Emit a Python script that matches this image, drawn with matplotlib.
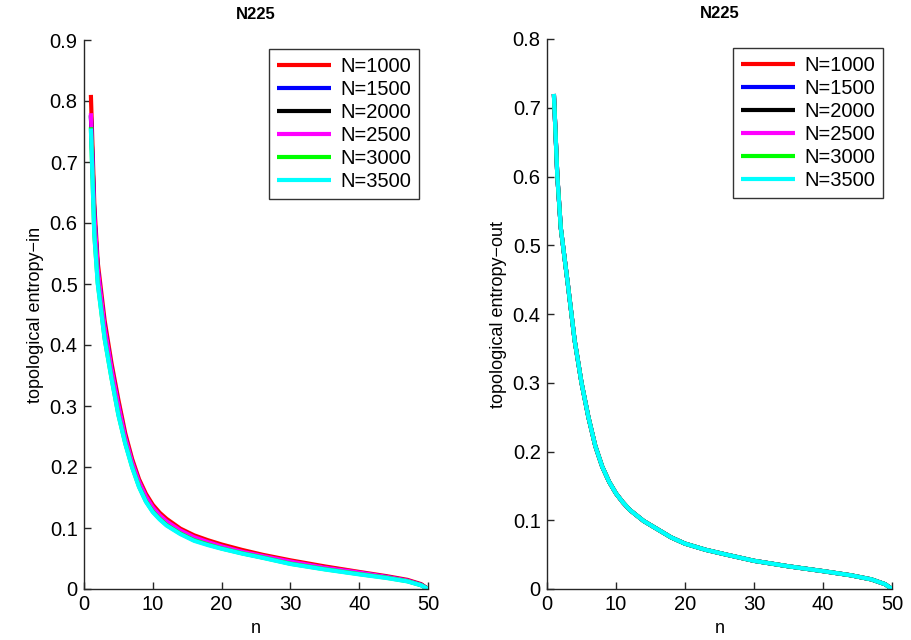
import matplotlib
matplotlib.use("Agg")
import matplotlib.pyplot as plt

plt.rcParams['font.family'] = ['Liberation Sans', 'DejaVu Sans']

# ---- data ----
n_in = [1, 1.5, 2, 3, 4, 5, 6, 7, 8, 9, 10, 11, 12, 14, 16, 18, 20, 23, 26, 30, 35, 40, 44, 47, 49, 50]
in_1000 = [0.81, 0.63, 0.535, 0.44, 0.37, 0.31, 0.255, 0.213, 0.18, 0.156, 0.138, 0.125, 0.115, 0.099, 0.088, 0.080, 0.073, 0.064, 0.056, 0.047, 0.037, 0.028, 0.021, 0.015, 0.008, 0.0]
in_1500 = [0.775, 0.612, 0.522, 0.428, 0.360, 0.300, 0.247, 0.206, 0.174, 0.150, 0.132, 0.119, 0.109, 0.094, 0.083, 0.075, 0.068, 0.059, 0.052, 0.0435, 0.034, 0.026, 0.0195, 0.0135, 0.0068, 0.0]
in_2000 = [0.777, 0.613, 0.523, 0.429, 0.361, 0.301, 0.248, 0.207, 0.175, 0.151, 0.133, 0.120, 0.110, 0.095, 0.084, 0.076, 0.069, 0.060, 0.053, 0.044, 0.0345, 0.0265, 0.0198, 0.0138, 0.0069, 0.0]
in_2500 = [0.78, 0.615, 0.525, 0.43, 0.362, 0.302, 0.249, 0.208, 0.176, 0.152, 0.134, 0.121, 0.111, 0.096, 0.085, 0.077, 0.070, 0.061, 0.054, 0.045, 0.035, 0.027, 0.020, 0.014, 0.007, 0.0]
in_3000 = [0.757, 0.582, 0.502, 0.411, 0.346, 0.286, 0.239, 0.200, 0.168, 0.144, 0.127, 0.115, 0.105, 0.091, 0.080, 0.073, 0.0665, 0.0585, 0.0515, 0.0415, 0.0325, 0.0245, 0.0185, 0.0128, 0.0062, 0.0]
in_3500 = [0.755, 0.58, 0.50, 0.41, 0.345, 0.285, 0.238, 0.199, 0.167, 0.143, 0.126, 0.114, 0.104, 0.090, 0.079, 0.072, 0.066, 0.058, 0.051, 0.041, 0.032, 0.024, 0.018, 0.0125, 0.006, 0.0]

n_out = [1, 1.5, 2, 3, 4, 5, 6, 7, 8, 9, 10, 11, 12, 14, 16, 18, 20, 23, 26, 30, 35, 40, 44, 47, 49, 50]
out_1000 = [0.72, 0.60, 0.525, 0.445, 0.362, 0.30, 0.25, 0.208, 0.178, 0.156, 0.139, 0.126, 0.115, 0.099, 0.087, 0.075, 0.066, 0.057, 0.050, 0.041, 0.033, 0.026, 0.020, 0.014, 0.007, 0.0]
out_1500 = [0.72, 0.60, 0.525, 0.445, 0.362, 0.30, 0.25, 0.208, 0.178, 0.156, 0.139, 0.126, 0.115, 0.099, 0.087, 0.075, 0.066, 0.057, 0.050, 0.041, 0.033, 0.026, 0.020, 0.014, 0.007, 0.0]
out_2000 = [0.72, 0.60, 0.525, 0.445, 0.362, 0.30, 0.25, 0.208, 0.178, 0.156, 0.139, 0.126, 0.115, 0.099, 0.087, 0.075, 0.066, 0.057, 0.050, 0.041, 0.033, 0.026, 0.020, 0.014, 0.007, 0.0]
out_2500 = [0.72, 0.60, 0.525, 0.445, 0.362, 0.30, 0.25, 0.208, 0.178, 0.156, 0.139, 0.126, 0.115, 0.099, 0.087, 0.075, 0.066, 0.057, 0.050, 0.041, 0.033, 0.026, 0.020, 0.014, 0.007, 0.0]
out_3000 = [0.72, 0.60, 0.525, 0.445, 0.362, 0.30, 0.25, 0.208, 0.178, 0.156, 0.139, 0.126, 0.115, 0.099, 0.087, 0.075, 0.066, 0.057, 0.050, 0.041, 0.033, 0.026, 0.020, 0.014, 0.007, 0.0]
out_3500 = [0.72, 0.60, 0.525, 0.445, 0.362, 0.30, 0.25, 0.208, 0.178, 0.156, 0.139, 0.126, 0.115, 0.099, 0.087, 0.075, 0.066, 0.057, 0.050, 0.041, 0.033, 0.026, 0.020, 0.014, 0.007, 0.0]

labels = ['N=1000', 'N=1500', 'N=2000', 'N=2500', 'N=3000', 'N=3500']
colors = ['#ff0000', '#0000ff', '#000000', '#ff00ff', '#00ff00', '#00ffff']

in_series = [in_1000, in_1500, in_2000, in_2500, in_3000, in_3500]
out_series = [out_1000, out_1500, out_2000, out_2500, out_3000, out_3500]

fig = plt.figure(figsize=(9.12, 6.4), dpi=100)
ax1 = fig.add_axes([84/912, 51/640, 344/912, 549/640])
ax2 = fig.add_axes([547/912, 51/640, 345/912, 550/640])

TFS = 14.5   # tick labels / legend
LFS = 13     # axis labels


def style(ax, ymax, ylabel):
    ax.set_xlim(0, 50)
    ax.set_ylim(0, ymax)
    ax.set_xticks([0, 10, 20, 30, 40, 50])
    yt = [round(0.1 * i, 1) for i in range(int(round(ymax * 10)) + 1)]
    ax.set_yticks(yt)
    ax.set_yticklabels(['0' if v == 0 else f'{v:g}' for v in yt])
    for s in ['top', 'right']:
        ax.spines[s].set_visible(False)
    for s in ['left', 'bottom']:
        ax.spines[s].set_color('#262626')
        ax.spines[s].set_linewidth(1.0)
    ax.tick_params(direction='in', length=5, width=1, colors='#262626',
                   labelsize=TFS, labelcolor='black', pad=4.5)
    ax.set_xlabel('n', fontsize=LFS, labelpad=4)
    ax.set_ylabel(ylabel, fontsize=LFS, labelpad=4)
    ax.set_title('N225', fontsize=12, fontweight='bold', pad=15)
    leg = ax.legend(loc='upper right', fontsize=TFS, frameon=True, fancybox=False,
                    edgecolor='black', handlelength=2.7, handletextpad=0.45,
                    labelspacing=0.2, borderpad=0.38, borderaxespad=0.45)
    leg.get_frame().set_linewidth(1.0)

for ys, c, lab in zip(in_series, colors, labels):
    ax1.plot(n_in, ys, color=c, lw=3, label=lab, solid_capstyle='butt',
             solid_joinstyle='round')
for ys, c, lab in zip(out_series, colors, labels):
    ax2.plot(n_out, ys, color=c, lw=3, label=lab, solid_capstyle='butt',
             solid_joinstyle='round')

style(ax1, 0.9, 'topological entropy\u2212in')
style(ax2, 0.8, 'topological entropy\u2212out')

fig.savefig('out.png', dpi=100)
